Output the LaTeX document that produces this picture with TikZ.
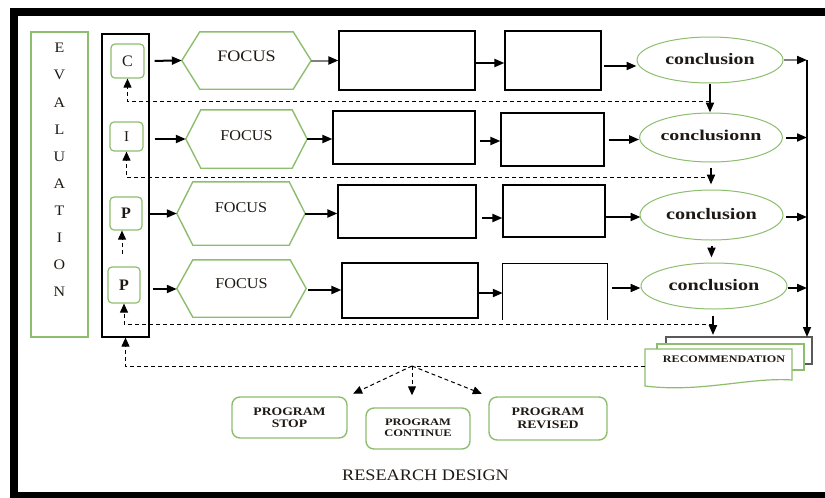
\documentclass[tikz,border=0pt]{standalone}
\usepackage{fontspec}
\usepackage{graphicx}
\setmainfont{Liberation Serif}
\usetikzlibrary{arrows.meta,shapes.geometric,calc}
\definecolor{gbord}{RGB}{140,190,110}
\definecolor{txt}{RGB}{30,25,20}
\newcommand\hexdraw[2]{\draw[gbord,line width=1.4pt] (#1.west) -- ([xshift=#2]#1.north west) -- ([xshift=-#2]#1.north east) -- (#1.east) -- ([xshift=-#2]#1.south east) -- ([xshift=#2]#1.south west) -- cycle;}
\newcommand\hs[2]{\scalebox{#1}[1]{#2}}
\tikzset{
 gbox/.style={draw=gbord, line width=1.2pt, rounded corners=4pt, inner sep=0pt, text=txt},
 hexa/.style={inner sep=0pt, text=txt},
 blk/.style={draw=black, line width=1.2pt, inner sep=0pt},
 ell/.style={ellipse, draw=gbord, line width=1pt, inner sep=0pt, text=txt},
 arr/.style={line width=2pt, -{Triangle[length=10pt,width=8pt]}},
 darr/.style={line width=1pt, dash pattern=on 4pt off 3pt, -{Triangle[length=9pt,width=8pt]}},
 fcs/.style={font=\fontsize{15}{17}\selectfont},
 ccl/.style={font=\fontsize{16}{18}\selectfont\bfseries},
 pbox/.style={draw=gbord, line width=1.4pt, rounded corners=8pt, inner sep=0pt, align=center, text=txt},
}
\begin{document}
\begin{tikzpicture}[x=1pt,y=-1pt]
\useasboundingbox (0,0) rectangle (825,498);
% frame
\fill[black] (10,8) rectangle (825,16);
\fill[black] (10,8) rectangle (18,498);
\fill[black] (10,492) rectangle (825,498);
% evaluation
\node[draw=gbord, line width=1.2pt, minimum width=57pt, minimum height=305pt, inner sep=0pt] (eval) at (59.5,184.5) {};
\node[align=center, text=txt, font=\fontsize{14.5}{27.1}\selectfont, inner sep=0pt] (evaltext) at (59.5,170) {\hs{1.1}{E}\\\hs{1.1}{V}\\\hs{1.1}{A}\\\hs{1.1}{L}\\\hs{1.1}{U}\\\hs{1.1}{A}\\\hs{1.1}{T}\\\hs{1.1}{I}\\\hs{1.1}{O}\\\hs{1.1}{N}};
% column
\node[blk, minimum width=47pt, minimum height=303pt] (col) at (125.5,185.5) {};
\node[gbox, minimum width=33pt, minimum height=34pt, font=\fontsize{16}{18}\selectfont] (Cb) at (127.5,61) {C};
\node[gbox, minimum width=33pt, minimum height=29pt, font=\fontsize{15}{17}\selectfont] (Ib) at (126.5,136.5) {I};
\node[gbox, minimum width=32pt, minimum height=33pt, font=\fontsize{16}{18}\selectfont\bfseries] (P3) at (126,213.5) {P};
\node[gbox, minimum width=32pt, minimum height=36pt, font=\fontsize{16}{18}\selectfont\bfseries] (P4) at (124,285) {P};
% hexagons
\node[hexa, minimum width=129pt, minimum height=57pt, font=\fontsize{16}{18}\selectfont] (h1) at (246.5,60.5) {\raisebox{8pt}{\hs{1.13}{FOCUS}}};
\node[hexa, fcs, minimum width=121pt, minimum height=58pt] (h2) at (246.5,139) {\raisebox{6pt}{\hs{1.08}{FOCUS}}};
\node[hexa, fcs, minimum width=128pt, minimum height=63pt] (h3) at (241,213.5) {\raisebox{12pt}{\hs{1.08}{FOCUS}}};
\node[hexa, fcs, minimum width=129pt, minimum height=57pt] (h4) at (241.5,288.5) {\raisebox{10pt}{\hs{1.08}{FOCUS}}};
\hexdraw{h1}{18pt}
\hexdraw{h2}{15pt}
\hexdraw{h3}{16pt}
\hexdraw{h4}{16pt}
% rectangles
\node[blk, minimum width=136pt, minimum height=59pt] (r1a) at (407,60.5) {};
\node[blk, minimum width=142pt, minimum height=53pt] (r2a) at (404,137.5) {};
\node[blk, minimum width=138pt, minimum height=53pt] (r3a) at (407,211.5) {};
\node[blk, minimum width=136pt, minimum height=55pt] (r4a) at (410,290.5) {};
\node[blk, minimum width=96pt, minimum height=59pt] (r1b) at (553,60.5) {};
\node[blk, minimum width=103pt, minimum height=53pt] (r2b) at (552.5,139.5) {};
\node[blk, minimum width=102pt, minimum height=52pt] (r3b) at (554,211) {};
\node[inner sep=0pt, minimum width=104pt, minimum height=56pt] (r4b) at (555,292) {};
\draw[line width=1.2pt] (r4b.south west) -- (r4b.north west) -- (r4b.north east) -- (r4b.south east);
% ellipses
\node[ell, ccl, minimum width=146pt, minimum height=46pt] (e1) at (710,60) {\raisebox{3pt}{\hs{1.24}{conclusion}}};
\node[ell, minimum width=132pt, minimum height=49pt, font=\fontsize{15}{17}\selectfont\bfseries] (e2) at (711,137.5) {\raisebox{5pt}{\hs{1.33}{conclusionn}}};
\node[ell, ccl, minimum width=143pt, minimum height=50pt] (e3) at (711.5,215) {\raisebox{3pt}{\hs{1.26}{conclusion}}};
\node[ell, ccl, minimum width=146pt, minimum height=46pt] (e4) at (714,286) {\raisebox{2pt}{\hs{1.26}{conclusion}}};
% recommendation sheets
\draw[gray!70!black, line width=1.5pt, fill=white] (666,337) rectangle (812,364);
\draw[gbord, line width=1.2pt, fill=white] (657,344) rectangle (804,370);
\draw[gbord, line width=1.2pt, fill=white] (645,349) -- (792,349) -- (792,380) .. controls (750,377) and (700,393) .. (645,386) -- cycle;
\node[text=txt, inner sep=0pt, font=\fontsize{10}{12}\selectfont\bfseries] (rec) at (724,359) {\hs{1.21}{RECOMMENDATION}};
\coordinate (recL) at (645,366);
% program boxes
\node[pbox, minimum width=115pt, minimum height=41pt, font=\fontsize{11.5}{12.5}\selectfont\bfseries] (stop) at (289.5,417.5) {\hs{1.19}{PROGRAM}\\\hs{1.19}{STOP}};
\node[pbox, minimum width=104pt, minimum height=41pt, font=\fontsize{10}{11}\selectfont\bfseries] (cont) at (418,428.5) {\raisebox{4pt}{\begin{tabular}{@{}c@{}}\hs{1.25}{PROGRAM}\\\hs{1.25}{CONTINUE}\end{tabular}}};
\node[pbox, minimum width=118pt, minimum height=43pt, font=\fontsize{11.5}{12.5}\selectfont\bfseries] (rev) at (548,418.5) {\hs{1.2}{PROGRAM}\\\hs{1.2}{REVISED}};
\node[text=txt, inner sep=0pt, font=\fontsize{16}{18}\selectfont] (title) at (425.5,475) {\hs{1.14}{RESEARCH DESIGN}};
% row arrows
\draw[arr, shorten <=10pt] (Cb.east) -- (h1.west);
\draw[arr, shorten <=11pt] (Ib.east |- h2.west) -- (h2.west);
\draw[arr, shorten <=7pt] (P3.east |- h3.west) -- (h3.west);
\draw[arr, shorten <=12pt] ([yshift=-4pt]P4.east) -- ([yshift=-4pt]P4.east -| h4.west);
\draw[arr, gray, -{Triangle[length=10pt,width=8pt,color=black]}] (h1.east) -- (h1.east -| r1a.west);
\draw[arr] (h2.east) -- (h2.east -| r2a.west);
\draw[arr] (h3.east) -- (h3.east -| r3a.west);
\draw[arr, shorten <=2pt] ([yshift=-1.5pt]h4.east) -- ([yshift=-1.5pt]h4.east -| r4a.west);
\draw[arr] ([yshift=-2.5pt]r1a.east) -- ([yshift=-2.5pt]r1a.east -| r1b.west);
\draw[arr, shorten <=4pt] ([yshift=-3.5pt]r2a.east) -- ([yshift=-3.5pt]r2a.east -| r2b.west);
\draw[arr, shorten <=5pt] ([yshift=-6.5pt]r3a.east) -- ([yshift=-6.5pt]r3a.east -| r3b.west);
\draw[arr] ([yshift=-2.5pt]r4a.east) -- ([yshift=-2.5pt]r4a.east -| r4b.west);
\draw[arr, shorten <=2pt] ([yshift=-5.5pt]r1b.east) -- ([yshift=-5.5pt]r1b.east -| e1.west);
\draw[arr, shorten <=4pt] (r2b.east) -- (r2b.east -| e2.west);
\draw[arr] ([yshift=-6pt]r3b.east) -- ([yshift=-6pt,xshift=1pt]r3b.east -| e3.west);
\draw[arr, shorten <=5pt] ([yshift=4pt]r4b.east) -- ([yshift=4pt]r4b.east -| e4.west);
% right line
\coordinate (rtop) at (807,60);
\coordinate (rbot) at (807,337);
\draw[line width=1.5pt, -{Triangle[length=10pt,width=8pt]}] (rtop) -- (rbot);
\draw[arr, gray, -{Triangle[length=10pt,width=8pt,color=black]}] (e1.east) -- (rtop);
\draw[arr, shorten <=3pt] (e2.east) -- (e2.east -| rtop);
\draw[arr, shorten <=2pt] ([yshift=-2pt]e3.east) -- ([yshift=-2pt]e3.east -| rtop);
\draw[arr] ([yshift=-2pt]e4.east) -- ([yshift=-2pt]e4.east -| rtop);
% down arrows between conclusions
\draw[arr] (e1.south) -- (e1.south |- e2.north);
\draw[arr] ([yshift=-5pt]e2.south) -- ([yshift=5pt]e2.south |- e3.north);
\draw[arr] ([yshift=-5pt]e3.south) -- ([yshift=5pt]e3.south |- e4.north);
\coordinate (d4end) at (713,335);
\draw[arr] ([yshift=-6pt,xshift=-1pt]e4.south) -- (d4end);
% dashed feedback
\coordinate (d1) at (710,101);
\draw[darr] (d1) -- (d1 -| Cb.south) -- (Cb.south);
\coordinate (d2) at (712,177);
\draw[darr] (d2) -- (d2 -| Ib.south) -- (Ib.south);
\draw[darr, shorten <=12pt] ([xshift=-2pt]P4.north) -- ([xshift=-4pt]P3.south);
\coordinate (d4) at (713,324);
\draw[darr] (d4) -- (d4 -| P4.south) -- (P4.south);
\draw[darr] (recL) -- (recL -| col.south) -- (col.south);
% split arrows
\coordinate (sp) at (412,366);
\draw[darr, shorten >=6pt] (sp) -- (stop.north east);
\draw[darr, shorten >=12pt] (sp) -- (sp |- cont.north);
\draw[darr, shorten >=7pt] (sp) -- (rev.north west);
\end{tikzpicture}
\end{document}
